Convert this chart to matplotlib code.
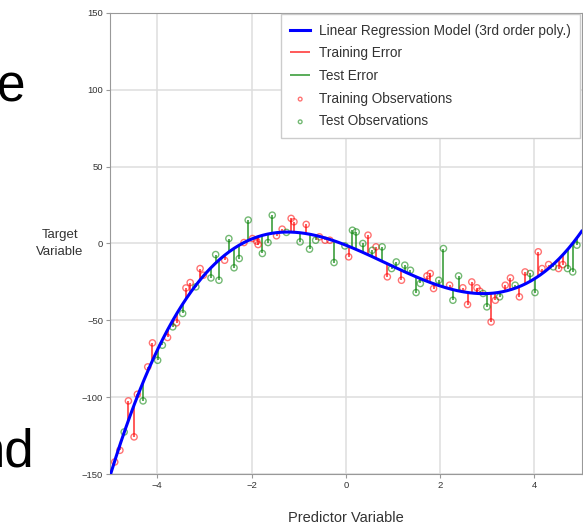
#!/usr/bin/env python
import numpy as np
import matplotlib
matplotlib.use('Agg')
import matplotlib.pyplot as plt

plt.rcParams['font.family'] = ['Liberation Sans', 'DejaVu Sans']

# fitted model, 3rd order polynomial (highest power first)
coef = [1.12, -2.82, -12.1, -1.1]

# training observations
train_x = [-4.90, -4.79, -4.61, -4.49, -4.42, -4.20, -4.10, -3.78, -3.59,
           -3.39, -3.30, -3.09, -3.02, -2.57, -2.16, -1.98, -1.89, -1.86,
           -1.47, -1.35, -1.16, -1.10, -0.84, -0.56, -0.44, -0.34, 0.06,
           0.47, 0.64, 0.88, 1.18, 1.72, 1.79, 1.86, 2.20, 2.48, 2.58,
           2.67, 2.78, 2.84, 3.08, 3.17, 3.38, 3.49, 3.68, 3.80, 4.08,
           4.16, 4.30, 4.51, 4.60]
train_y = [-142.0, -134.4, -102.3, -125.7, -98.0, -80.2, -64.6, -61.1, -51.6,
           -28.9, -25.4, -16.3, -20.6, -10.9, 0.6, 3.2, 1.5, -0.7,
           5.0, 9.3, 16.3, 14.1, 12.4, 4.3, 2.1, 2.1, -8.7,
           5.4, -2.2, -21.7, -23.9, -21.1, -19.5, -29.3, -27.1, -28.8, -39.7,
           -25.0, -28.8, -31.0, -51.0, -36.9, -27.1, -22.4, -34.7, -18.5, -5.4,
           -16.3, -13.7, -16.3, -13.7]

# test observations
test_x = [-4.70, -4.30, -3.99, -3.89, -3.67, -3.46, -3.18, -2.86, -2.76,
          -2.69, -2.48, -2.37, -2.26, -2.07, -1.77, -1.65, -1.56, -1.26,
          -0.97, -0.77, -0.64, -0.25, -0.02, 0.14, 0.22, 0.36, 0.56,
          0.77, 0.97, 1.07, 1.25, 1.37, 1.49, 1.58, 1.97, 2.07, 2.27,
          2.39, 2.91, 2.99, 3.26, 3.59, 3.91, 4.01, 4.40, 4.70, 4.81, 4.90]
test_y = [-122.5, -102.3, -75.9, -66.1, -54.2, -45.5, -28.2, -22.4, -7.2,
          -23.9, 3.2, -15.8, -9.8, 15.2, -6.5, 0.6, 18.4, 7.2,
          1.0, -3.7, 2.1, -12.4, -1.6, 8.6, 7.5, 0.0, -4.4,
          -2.2, -16.3, -12.0, -14.1, -17.4, -31.9, -26.0, -23.9, -3.3, -36.9,
          -21.1, -32.5, -41.2, -34.7, -27.1, -19.5, -31.9, -15.2, -16.3, -18.5, -1.1]

xticks = [-4, -2, 0, 2, 4]
yticks = [-150, -100, -50, 0, 50, 100, 150]

fig = plt.figure(figsize=(5.83, 5.27), dpi=100)
ax = fig.add_axes([0.1887, 0.100, 0.809, 0.876])

# model curve
xs = np.linspace(-5, 5, 400)
line, = ax.plot(xs, np.polyval(coef, xs), color='#0000ff', lw=2.2, zorder=5)

# residuals
train_x = np.array(train_x)
test_x = np.array(test_x)
tr_err = ax.vlines(train_x, train_y, np.polyval(coef, train_x),
                   color='red', alpha=0.65, lw=1.4, zorder=3)
te_err = ax.vlines(test_x, test_y, np.polyval(coef, test_x),
                   color='green', alpha=0.65, lw=1.4, zorder=3)

# observations
tr_pts = ax.scatter(train_x, train_y, s=20, facecolors='none',
                    edgecolors='red', alpha=0.55, lw=1.0, zorder=4)
te_pts = ax.scatter(test_x, test_y, s=20, facecolors='none',
                    edgecolors='green', alpha=0.55, lw=1.0, zorder=4)

ax.set_xlim(-5, 5)
ax.set_ylim(-150, 150)
ax.set_xticks(xticks)
ax.set_yticks(yticks)
ax.grid(color='#dedede', lw=1.1)
ax.set_axisbelow(True)
for s in ax.spines.values():
    s.set_color('#999999')
ax.tick_params(labelsize=6.8, length=3, width=0.8, color='#999999',
               labelcolor='#333333', pad=2)

ax.set_xlabel('Predictor Variable', fontsize=10.5, color='#333333', labelpad=15)
ax.set_ylabel('Target\nVariable', fontsize=9.5, color='#333333', rotation=0,
              ha='center', va='center', labelpad=16, linespacing=1.5)

leg = ax.legend([line, tr_err, te_err, tr_pts, te_pts],
                ['Linear Regression Model (3rd order poly.)', 'Training Error',
                 'Test Error', 'Training Observations', 'Test Observations'],
                loc='upper right', fontsize=9.8, borderaxespad=0.1,
                borderpad=0.7, labelspacing=0.64, handlelength=1.45,
                handletextpad=0.65, markerscale=0.6,
                fancybox=False, framealpha=1)
leg.get_frame().set_edgecolor('#cccccc')
for t in leg.get_texts():
    t.set_color('#333333')

# slide text behind the chart
fig.text(25.5 / 583, 1 - 102 / 527, 'e', fontsize=37, ha='right',
         va='baseline')
fig.text(34 / 583, 1 - 466.5 / 527, 'nd', fontsize=38, ha='right',
         va='baseline')

fig.savefig('out.png', dpi=100)
